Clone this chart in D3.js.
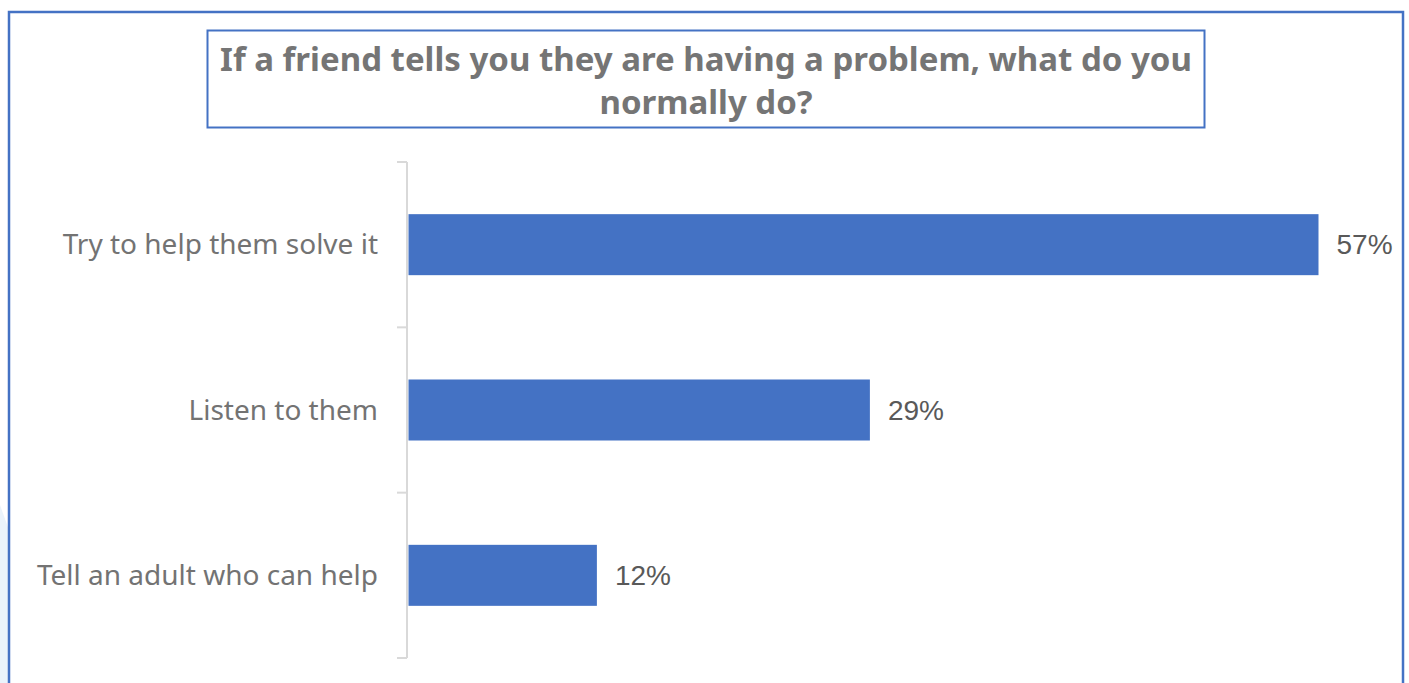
<!DOCTYPE html>
<html>
<head>
<meta charset="utf-8">
<script src="https://cdn.jsdelivr.net/npm/d3@7"></script>
<style>
html,body{margin:0;padding:0;background:#fff;}
svg{display:block;}
</style>
</head>
<body>
<svg id="chart" width="1409" height="683"></svg>
<script>
const categories = ["Try to help them solve it", "Listen to them", "Tell an adult who can help"];
const values = [0.570, 0.289, 0.118];
const titleLines = ["If a friend tells you they are having a problem, what do you", "normally do?"];

const svg = d3.select("#chart");
const W = 1409, H = 683;

// faint decorative background at left edge
svg.append("path")
  .attr("d", "M0,505 L9,530 L9,683 L0,683 Z")
  .attr("fill", "#eaf3fb");

// outer border
svg.append("rect")
  .attr("x", 9).attr("y", 12).attr("width", 1394).attr("height", 700)
  .attr("fill", "#fff").attr("stroke", "#4472C4").attr("stroke-width", 2.5);

// title box
svg.append("rect")
  .attr("x", 207.5).attr("y", 30.5).attr("width", 997).attr("height", 97)
  .attr("fill", "none").attr("stroke", "#4472C4").attr("stroke-width", 2);

const title = svg.append("text")
  .attr("text-anchor", "middle")
  .attr("font-family", "'Noto Sans', sans-serif")
  .attr("font-weight", "bold")
  .attr("font-size", 33)
  .attr("fill", "#757575");
titleLines.forEach((t, i) => {
  title.append("tspan").attr("x", 706).attr("y", 71 + i * 43).text(t);
});

const x0 = 408.5;
const x = d3.scaleLinear().domain([0, 0.570]).range([x0, 1318.5]);
const y = d3.scaleBand().domain(categories).range([162, 658]).paddingInner(0).paddingOuter(0);
const barH = y.bandwidth() * 0.369;

// axis line and tick marks at band boundaries
const g = svg.append("g");
g.append("line")
  .attr("x1", 407).attr("x2", 407).attr("y1", y.range()[0]).attr("y2", y.range()[1])
  .attr("stroke", "#d9d9d9").attr("stroke-width", 2);
const bounds = categories.map(c => y(c)).concat([y.range()[1]]);
g.selectAll(".tick").data(bounds).enter().append("line")
  .attr("x1", 397).attr("x2", 407).attr("y1", d => d).attr("y2", d => d)
  .attr("stroke", "#d9d9d9").attr("stroke-width", 2);

// bars
svg.selectAll(".bar").data(categories).enter().append("rect")
  .attr("x", x(0))
  .attr("y", (d) => y(d) + (y.bandwidth() - barH) / 2)
  .attr("width", (d, i) => x(values[i]) - x(0))
  .attr("height", barH)
  .attr("fill", "#4472C4");

// category labels
svg.selectAll(".cat").data(categories).enter().append("text")
  .attr("x", 378)
  .attr("y", d => y(d) + y.bandwidth() / 2)
  .attr("dy", "0.35em")
  .attr("text-anchor", "end")
  .attr("font-family", "'Noto Sans', sans-serif")
  .attr("font-size", 28)
  .attr("fill", "#737373")
  .text(d => d);

// value labels
svg.selectAll(".val").data(categories).enter().append("text")
  .attr("x", (d, i) => x(values[i]) + 18)
  .attr("y", d => y(d) + y.bandwidth() / 2)
  .attr("dy", "0.35em")
  .attr("font-family", "'Liberation Sans', Arial, sans-serif")
  .attr("font-size", 28)
  .attr("fill", "#595959")
  .text((d, i) => d3.format(".0%")(values[i]));
</script>
</body>
</html>
